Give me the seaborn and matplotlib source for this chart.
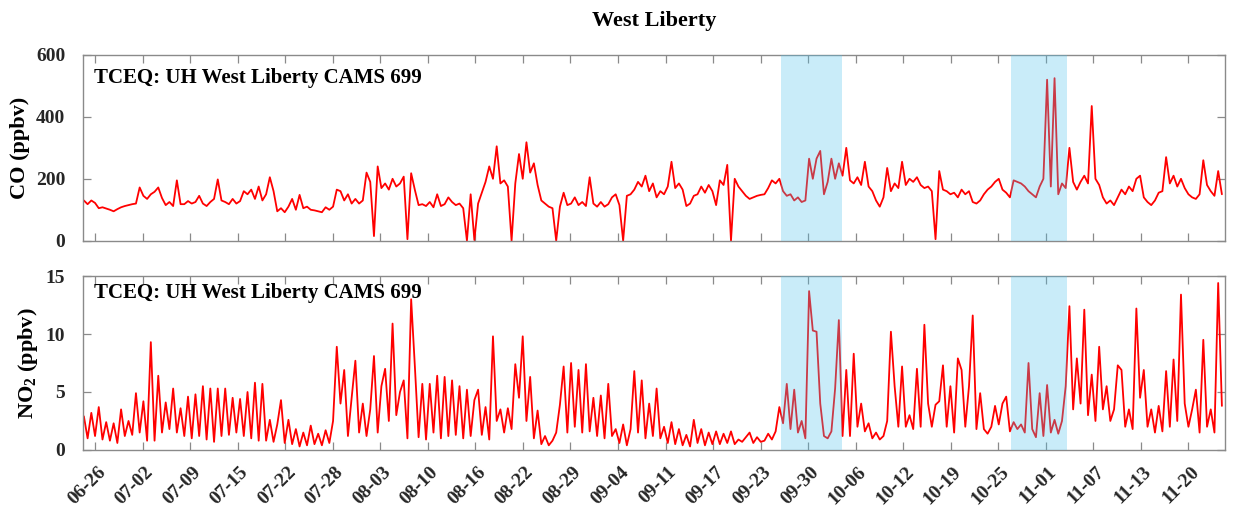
import numpy as np
import pandas as pd
import matplotlib
matplotlib.use("Agg")
import matplotlib.pyplot as plt
import seaborn as sns
from matplotlib.transforms import ScaledTranslation

# ---- data: half-daily readings, days counted from 06-26 ----
t_start = -1.5
t_step = 0.5

co_ppbv = [
    130, 118, 130, 122, 105, 108, 104, 100, 95, 102, 108, 112,
    115, 118, 120, 172, 145, 135, 150, 158, 172, 138, 115, 125,
    112, 195, 118, 118, 128, 120, 125, 145, 120, 112, 125, 135,
    198, 130, 125, 118, 135, 120, 128, 160, 150, 165, 135, 175,
    130, 150, 205, 160, 95, 105, 92, 110, 135, 100, 148, 105,
    110, 100, 98, 95, 92, 108, 100, 110, 165, 160, 130, 150,
    120, 135, 120, 130, 220, 190, 15, 240, 170, 185, 165, 200,
    175, 185, 207, 5, 218, 164, 115, 118, 112, 125, 108, 150,
    112, 118, 140, 125, 115, 120, 105, 0, 150, 2, 120, 155,
    190, 240, 200, 305, 185, 195, 175, 0, 185, 280, 200, 318,
    220, 250, 180, 130, 120, 110, 105, 0, 110, 155, 115, 120,
    140, 115, 125, 112, 205, 120, 110, 125, 110, 118, 140, 150,
    115, 0, 145, 150, 165, 190, 175, 210, 160, 185, 140, 160,
    150, 175, 255, 170, 185, 165, 112, 120, 145, 150, 175, 155,
    180, 160, 115, 195, 180, 245, 0, 200, 175, 160, 145, 135,
    140, 145, 148, 150, 170, 195, 185, 200, 160, 145, 150, 130,
    140, 125, 130, 265, 200, 265, 290, 150, 190, 265, 200, 250,
    210, 300, 195, 185, 205, 180, 255, 175, 160, 130, 110, 140,
    235, 160, 185, 170, 255, 180, 200, 190, 205, 180, 170, 175,
    160, 5, 225, 165, 160, 150, 155, 140, 165, 150, 160, 125,
    120, 130, 150, 165, 175, 190, 200, 165, 155, 140, 195, 190,
    185, 175, 160, 150, 140, 175, 200, 520, 175, 525, 150, 185,
    170, 300, 190, 165, 190, 210, 185, 435, 200, 180, 140, 120,
    130, 115, 140, 165, 150, 175, 160, 200, 210, 140, 125, 115,
    130, 155, 160, 270, 185, 210, 175, 200, 170, 150, 140, 135,
    150, 260, 180, 160, 145, 225, 150,
]

no2_ppbv = [
    2.9, 1.0, 3.2, 1.2, 3.7, 0.9, 2.4, 0.8, 2.3, 0.6, 3.5, 1.2,
    2.5, 1.3, 4.9, 1.5, 4.2, 0.8, 9.3, 0.8, 6.4, 1.5, 4.1, 1.8,
    5.3, 1.5, 3.6, 1.2, 4.6, 1.0, 4.8, 1.2, 5.5, 0.9, 5.3, 0.7,
    5.3, 1.2, 5.3, 1.3, 4.5, 1.5, 4.4, 1.2, 5.0, 1.0, 5.8, 0.8,
    5.7, 0.8, 2.6, 0.7, 2.2, 4.3, 0.6, 2.6, 0.5, 1.8, 0.3, 1.5,
    0.4, 2.1, 0.5, 1.4, 0.4, 1.7, 0.6, 2.5, 8.9, 4.0, 6.9, 1.2,
    4.5, 7.7, 1.5, 4.0, 1.2, 3.5, 8.1, 1.5, 5.5, 7.0, 2.5, 10.9,
    3.0, 5.0, 6.0, 1.0, 13.0, 7.2, 1.1, 5.7, 0.9, 5.7, 1.5, 6.4,
    1.0, 6.3, 1.2, 6.0, 1.3, 5.5, 1.0, 5.2, 1.2, 4.3, 5.2, 1.3,
    3.7, 0.9, 9.8, 2.5, 3.5, 1.5, 3.6, 1.8, 7.4, 4.5, 9.8, 2.5,
    6.3, 1.0, 3.4, 0.5, 1.2, 0.4, 0.8, 1.5, 3.9, 7.2, 1.5, 7.5,
    2.0, 6.9, 1.5, 7.4, 1.6, 4.5, 1.2, 4.7, 1.0, 5.7, 1.2, 1.8,
    0.6, 2.2, 0.4, 1.8, 6.8, 1.5, 6.0, 1.0, 4.0, 1.2, 5.3, 1.0,
    2.0, 0.6, 2.4, 0.5, 1.8, 0.4, 1.3, 0.3, 2.6, 0.6, 1.8, 0.4,
    1.5, 0.5, 1.6, 0.5, 1.4, 0.6, 1.6, 0.5, 0.9, 0.7, 1.1, 1.5,
    0.6, 1.1, 0.7, 0.8, 1.4, 0.9, 1.6, 3.7, 2.3, 5.7, 1.8, 5.2,
    1.5, 2.5, 1.0, 13.7, 10.3, 10.2, 4.0, 1.2, 1.0, 1.6, 5.3, 11.2,
    1.2, 6.9, 1.2, 8.3, 2.0, 4.0, 1.6, 2.3, 1.0, 1.5, 0.9, 1.2,
    2.5, 10.2, 5.5, 2.0, 7.2, 2.0, 3.0, 1.8, 7.0, 2.0, 10.8, 4.0,
    2.0, 3.9, 4.2, 7.3, 2.0, 5.5, 1.5, 7.9, 6.9, 2.0, 5.5, 11.6,
    1.8, 4.9, 1.8, 1.4, 2.0, 3.8, 2.2, 4.0, 4.6, 1.6, 2.4, 1.8,
    2.2, 1.5, 7.5, 1.8, 1.1, 4.9, 1.2, 5.6, 1.5, 2.6, 1.4, 2.5,
    5.5, 12.4, 3.5, 7.9, 4.0, 12.1, 3.0, 6.5, 2.5, 8.9, 3.5, 5.5,
    2.5, 3.5, 7.3, 6.9, 2.0, 3.5, 1.8, 12.2, 4.5, 6.9, 2.0, 3.5,
    1.5, 3.8, 1.6, 6.8, 2.0, 7.8, 2.5, 13.4, 4.0, 2.0, 3.5, 5.2,
    1.5, 9.5, 2.0, 3.5, 1.5, 14.4, 3.8,
]

date_labels = [
    "06-26", "07-02", "07-09", "07-15", "07-22", "07-28", "08-03", "08-10",
    "08-16", "08-22", "08-29", "09-04", "09-11", "09-17", "09-23", "09-30",
    "10-06", "10-12", "10-19", "10-25", "11-01", "11-07", "11-13", "11-20",
]
tick_days = np.linspace(0, 147, len(date_labels))

# periods highlighted in both panels (days from 06-26)
highlight_start = [92.2, 123.2]
highlight_end = [100.45, 130.65]

site_label = "TCEQ: UH West Liberty CAMS 699"

co_df = pd.DataFrame({"day": t_start + t_step * np.arange(len(co_ppbv)), "value": co_ppbv})
no2_df = pd.DataFrame({"day": t_start + t_step * np.arange(len(no2_ppbv)), "value": no2_ppbv})

# ---- styling ----
sns.set_theme(style="ticks")
plt.rcParams["font.family"] = ["Liberation Serif", "DejaVu Serif"]
plt.rcParams["font.weight"] = "bold"
plt.rcParams["mathtext.fontset"] = "custom"
plt.rcParams["mathtext.rm"] = "Liberation Serif:bold"
plt.rcParams["mathtext.bf"] = "Liberation Serif:bold"
plt.rcParams["mathtext.it"] = "Liberation Serif:bold"

spine_color = "#8a8a8a"
text_color = "#262626"

fig = plt.figure(figsize=(12.35, 5.16), dpi=100)
ax_co = fig.add_axes([0.0675, 0.5335, 0.924, 0.36])
ax_no2 = fig.add_axes([0.0675, 0.128, 0.924, 0.337])

panels = [
    (ax_co, co_df, (0, 600), [0, 200, 400, 600], "CO (ppbv)", 0.876),
    (ax_no2, no2_df, (0, 15), [0, 5, 10, 15], r"NO$_{2}$ (ppbv)", 0.902),
]

for ax, df, ylim, yticks, ylabel, label_y in panels:
    sns.lineplot(data=df, x="day", y="value", ax=ax, color="red",
                 linewidth=1.3, estimator=None, zorder=2)
    for s, e in zip(highlight_start, highlight_end):
        ax.axvspan(s, e, color=(0.30, 0.76, 0.93), alpha=0.30, lw=0, zorder=3)
    ax.set_xlim(-1.57, 151.85)
    ax.set_ylim(*ylim)
    ax.set_yticks(yticks)
    ax.set_xticks(tick_days)
    ax.set_ylabel(ylabel, fontsize=16, fontweight="bold", color="black", labelpad=4)
    ax.set_xlabel("")
    for sp in ax.spines.values():
        sp.set_visible(True)
        sp.set_color(spine_color)
        sp.set_linewidth(1.0)
    ax.tick_params(axis="both", direction="in", length=6, width=0.9,
                   color=spine_color, top=True, right=True,
                   labelsize=14, labelcolor=text_color)
    ax.tick_params(axis="y", pad=13)
    ax.text(0.0094, label_y, site_label, transform=ax.transAxes,
            fontsize=15, fontweight="bold", color="black", va="center", ha="left", zorder=5)

ax_co.set_xticklabels([])
ax_no2.set_xticklabels(date_labels, rotation=45, ha="right", va="center",
                       rotation_mode="anchor", fontsize=14, fontweight="bold")
ax_no2.tick_params(axis="x", pad=14)
offset = ScaledTranslation(8 / 100, 0, fig.dpi_scale_trans)
for lbl in ax_no2.get_xticklabels():
    lbl.set_transform(lbl.get_transform() + offset)

fig.text(654 / 1235, 1 - 21 / 516, "West Liberty", ha="center", va="center",
         fontsize=16, fontweight="bold", color="black")

fig.savefig("out.png", dpi=100)
